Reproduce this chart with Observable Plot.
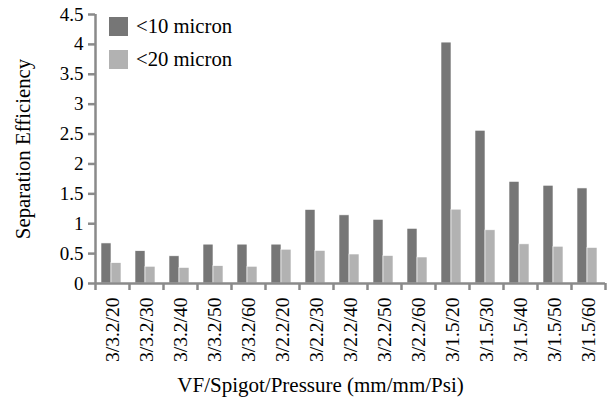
<!DOCTYPE html>
<html><head><meta charset="utf-8">
<script src="https://cdn.jsdelivr.net/npm/d3@7"></script>
<script src="https://cdn.jsdelivr.net/npm/@observablehq/plot@0.6"></script>
<style>
body{margin:0;background:#fff;}
#wrap{position:relative;width:608px;height:408px;}
#legend{position:absolute;left:109px;top:10px;font-size:20.7px;color:#000;z-index:2;font-family:"Liberation Serif";}
.li{display:flex;align-items:center;height:33px;}
.sw{width:19px;height:19px;margin-right:8px;flex:none;}
.li span{font-family:"Liberation Serif";}
</style></head><body>
<div id="wrap"><div id="legend"></div></div>
<script>
const categories = ["3/3.2/20","3/3.2/30","3/3.2/40","3/3.2/50","3/3.2/60","3/2.2/20","3/2.2/30","3/2.2/40","3/2.2/50","3/2.2/60","3/1.5/20","3/1.5/30","3/1.5/40","3/1.5/50","3/1.5/60"];
const series = ["<10 micron","<20 micron"];
const under10 = [0.67,0.54,0.455,0.65,0.65,0.65,1.23,1.14,1.065,0.915,4.03,2.555,1.70,1.635,1.59];
const under20 = [0.34,0.28,0.26,0.29,0.28,0.565,0.545,0.485,0.46,0.435,1.235,0.89,0.655,0.615,0.595];
const yTicks = [0,0.5,1,1.5,2,2.5,3,3.5,4,4.5];
const colors = ["#767676","#b2b2b2"];

const rows = [];
categories.forEach((c,i)=>{rows.push({cat:c,s:series[0],v:under10[i]});rows.push({cat:c,s:series[1],v:under20[i]});});
const FONT = "Liberation Serif";
const axisGray = "#8a8a8a";
const band = 34;
const tickLen = 7/(269/4.5);

const chart = Plot.plot({
  width:608, height:408,
  marginLeft:95, marginRight:3, marginTop:14, marginBottom:125,
  style:{fontFamily:FONT, color:"#000", background:"#fff"},
  x:{domain:categories, padding:0},
  y:{domain:[0,4.5]},
  color:{domain:series, range:colors},
  marks:[
    Plot.barY(rows.filter(d=>d.s===series[0]),{x:"cat",y:"v",fill:colors[0],insetLeft:6,insetRight:18,stroke:"#fff",strokeWidth:0.6}),
    Plot.barY(rows.filter(d=>d.s===series[1]),{x:"cat",y:"v",fill:colors[1],insetLeft:16,insetRight:8,stroke:"#fff",strokeWidth:0.6}),
    Plot.ruleX([categories[0]],{dx:-band/2,stroke:axisGray,strokeWidth:2.5}),
    Plot.ruleY([0],{stroke:axisGray,strokeWidth:2.5}),
    Plot.ruleX(categories,{x:d=>d,y1:0,y2:-tickLen,dx:-band/2,stroke:axisGray,strokeWidth:2.5}),
    Plot.ruleX([categories[categories.length-1]],{y1:0,y2:-tickLen,dx:band/2,stroke:axisGray,strokeWidth:2.5}),
    Plot.axisY({ticks:yTicks,tickSize:7,tickPadding:5,fontSize:19,fontFamily:FONT,stroke:axisGray,strokeWidth:2.5,label:null,tickFormat:d=>String(d)}),
    Plot.axisX({tickSize:0,tickRotate:-90,tickPadding:14,fontSize:19.5,fontFamily:FONT,label:null}),
    Plot.text(["Separation Efficiency"],{frameAnchor:"left",rotate:-90,textAnchor:"middle",dx:-72,fontSize:20.8,fontFamily:FONT,text:d=>d}),
    Plot.text(["VF/Spigot/Pressure (mm/mm/Psi)"],{frameAnchor:"bottom",textAnchor:"middle",dy:108,dx:-30,fontSize:21,fontFamily:FONT,text:d=>d})
  ]
});
document.getElementById("wrap").appendChild(chart);
chart.style.position="absolute";chart.style.left="0";chart.style.top="0";
const lg=document.getElementById("legend");
series.forEach((s,i)=>{const d=document.createElement("div");d.className="li";
  const sw=document.createElement("div");sw.className="sw";sw.style.background=colors[i];
  const t=document.createElement("span");t.textContent=s;d.appendChild(sw);d.appendChild(t);lg.appendChild(d);});
</script></body></html>
